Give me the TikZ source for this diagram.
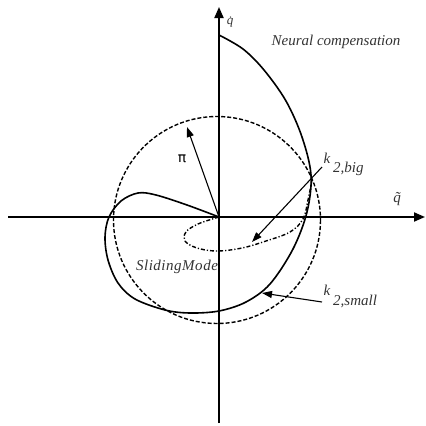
\documentclass[tikz,border=0pt]{standalone}
\usepackage{fontspec}
\setmainfont{Liberation Serif}
\newfontfamily\symfont{DejaVu Sans}
\usetikzlibrary{arrows.meta}
\tikzset{
  axis/.style={line width=1.9pt,-{Triangle[length=11pt,width=9pt]}},
  curve/.style={line width=1.6pt,line join=round},
  dcircle/.style={line width=1.4pt,dash pattern=on 4pt off 2pt},
  ddot/.style={line width=1.4pt,dash pattern=on 4pt off 2pt on 1.2pt off 2pt},
  pointer/.style={line width=1.1pt,-{Triangle[length=10pt,width=7pt]}},
  lbl/.style={font=\fontsize{15}{17}\selectfont\itshape,text=black!80,inner sep=0pt},
}
\begin{document}
\begin{tikzpicture}[x=1pt,y=-1pt]
\useasboundingbox (0,0) rectangle (426,426);
\coordinate (O) at (219,217);
\coordinate (xl) at (8,217);
\coordinate (xr) at (425,217);
\coordinate (yb) at (219,423);
\coordinate (yt) at (219,7);
\draw[axis] (xl) -- (xr);
\draw[axis] (yb) -- (yt);
% dashed circle
\coordinate (C) at (217,220);
\draw[dcircle] (C) circle[radius=103.5];
% neural compensation curve
\draw[curve] plot[smooth,tension=0.55] coordinates {
 (219,35) (243,49) (264,70) (286,101) (302,137) (311,175) (307,212) (293,249)
 (270,284) (246,302) (219,311) (190,313) (165,310) (135,299) (118,283)
 (108,260) (105,237) (109,217) (121,201) (138,193) (156,195) (187,205) (219,217)};
% sliding mode dash-dot spiral
\draw[ddot] plot[smooth,tension=0.6] coordinates {
 (219,217) (198,224) (186,232) (185,241) (197,248) (217,251) (242,248)
 (266,241) (290,232) (303,219) (308,200) (312,180)};
% pi arrow
\coordinate (piT) at (187,127);
\draw[pointer] (O) -- (piT);
\node[inner sep=0pt,font=\symfont\fontsize{14}{16}\selectfont] (pilbl) at (182,159) {π};
% k2 big arrow
\coordinate (kbS) at (322,167);
\coordinate (kbT) at (252,242);
\draw[pointer] (kbS) -- (kbT);
\node[lbl] (kb1) at (327,158) {k};
\node[lbl,anchor=west] (kb2) at (333,169) {2,big};
% k2 small arrow
\coordinate (ksS) at (322,302);
\coordinate (ksT) at (262,293);
\draw[pointer] (ksS) -- (ksT);
\node[lbl] (ks1) at (327,290) {k};
\node[lbl,anchor=west] (ks2) at (333,301) {2,small};
% labels
\node[lbl] (neural) at (336,42) {Neural compensation};
\node[lbl] (slide) at (177,267) {\addfontfeature{LetterSpace=3.5}SlidingMode};
\node[lbl,font=\fontsize{13}{15}\selectfont\itshape] (qdot) at (230,22) {q̇};
\node[lbl] (qtil) at (397,199) {q̃};
\end{tikzpicture}
\end{document}
